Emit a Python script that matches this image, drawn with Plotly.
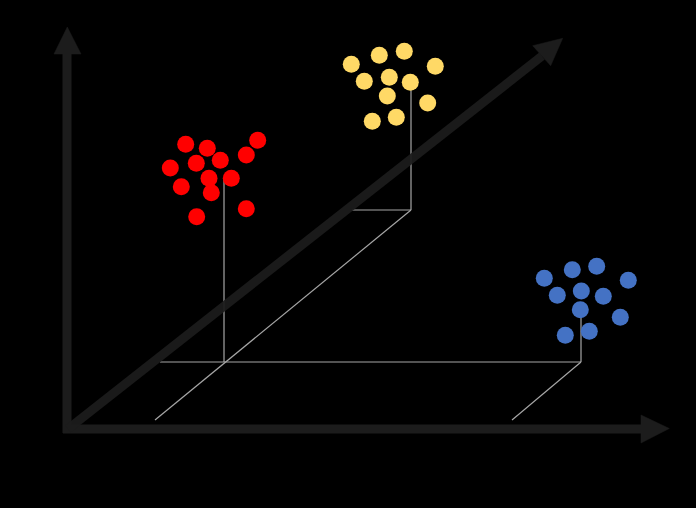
import plotly.graph_objects as go

# ---- data (diagram coordinates, y measured downward) ----
red_x = [185.7, 207.3, 257.7, 246.3, 220.3, 196.3, 170.3, 209.0, 231.3, 181.3, 211.3, 246.3, 196.7]
red_y = [144.3, 148.3, 140.3, 155.0, 160.3, 163.3, 168.0, 178.3, 178.3, 186.7, 192.7, 208.7, 216.7]

yellow_x = [351.3, 379.3, 404.3, 435.3, 364.3, 389.3, 410.3, 387.3, 427.7, 372.3, 396.3]
yellow_y = [64.3, 55.3, 51.3, 66.3, 81.3, 77.3, 82.3, 96.0, 103.0, 121.3, 117.3]

blue_x = [544.3, 572.3, 596.7, 628.3, 557.3, 581.3, 603.3, 580.3, 620.3, 565.3, 589.3]
blue_y = [278.3, 269.7, 266.3, 280.3, 295.3, 291.0, 296.3, 309.7, 317.3, 335.3, 331.3]

# projection guide lines (x list, y list) per segment
guide_segments = [
    ([224, 224], [178, 362]),      # red vertical drop
    ([160, 581], [362, 362]),      # floor line through red / blue
    ([581, 581], [310, 362]),      # blue vertical drop
    ([581, 512], [362, 420]),      # blue depth line
    ([155, 411], [420, 210]),      # red/yellow depth line
    ([411, 411], [83, 210]),       # yellow vertical drop
    ([352, 411], [210, 210]),      # yellow horizontal
]

# axes: shaft (x, y) and head triangles
axis_shafts = [
    ([67, 67], [433, 54]),
    ([63, 641], [429, 429]),
    ([68, 542], [429, 56]),
]
axis_heads = [
    ([54, 81, 67.3], [54, 54, 27]),
    ([641, 641, 669.3], [415, 443, 428.5]),
    ([532.7, 550.7, 562.7], [45.7, 65.7, 38.3]),
]

GUIDE = "#a6a6a6"
AXIS = "#1c1c1c"

fig = go.Figure()

for xs, ys in guide_segments:
    fig.add_trace(go.Scatter(x=xs, y=ys, mode="lines",
                             line=dict(color=GUIDE, width=1.2),
                             hoverinfo="skip", showlegend=False))

for i, (xs, ys) in enumerate(axis_shafts):
    fig.add_trace(go.Scatter(x=xs, y=ys, mode="lines",
                             line=dict(color=AXIS, width=9),
                             opacity=0.93 if i == 2 else 1,
                             hoverinfo="skip", showlegend=False))
for xs, ys in axis_heads:
    fig.add_trace(go.Scatter(x=xs + [xs[0]], y=ys + [ys[0]], mode="lines",
                             fill="toself", fillcolor=AXIS,
                             line=dict(color=AXIS, width=0.5),
                             hoverinfo="skip", showlegend=False))

for xs, ys, col in [(red_x, red_y, "#ff0000"),
                    (yellow_x, yellow_y, "#ffd966"),
                    (blue_x, blue_y, "#4472c4")]:
    fig.add_trace(go.Scatter(x=xs, y=ys, mode="markers",
                             marker=dict(color=col, size=17, line=dict(width=0)),
                             showlegend=False))

fig.update_layout(
    width=696, height=508,
    margin=dict(l=0, r=0, t=0, b=0),
    paper_bgcolor="#000000", plot_bgcolor="#000000",
    xaxis=dict(range=[0, 696], visible=False, fixedrange=True),
    yaxis=dict(range=[508, 0], visible=False, fixedrange=True),
    showlegend=False,
)

fig.write_html("out.html", config={"displayModeBar": False})
